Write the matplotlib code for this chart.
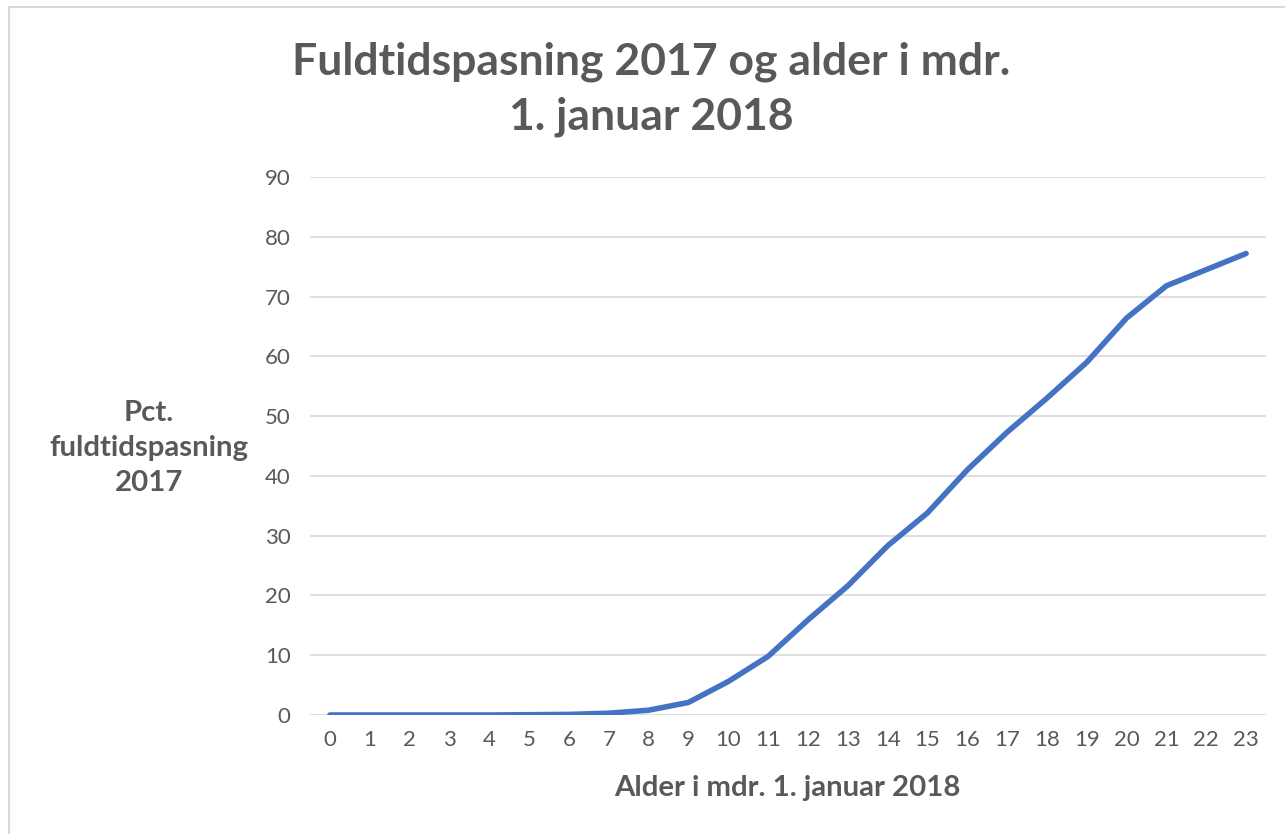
import matplotlib
matplotlib.use('Agg')
import matplotlib.pyplot as plt
from matplotlib.patches import Rectangle

plt.rcParams['font.family'] = ['Lato', 'DejaVu Sans']

alder = list(range(24))
pct = [0, 0, 0, 0, 0, 0.05, 0.1, 0.3, 0.8, 2.1, 5.6, 9.8, 15.9, 21.6, 28.3,
       33.8, 41.0, 47.3, 53.0, 59.0, 66.4, 71.8, 74.5, 77.2]
yticks = list(range(0, 100, 10))

grey = '#595959'

fig = plt.figure(figsize=(12.85, 8.34), dpi=100)
fig.patches.append(Rectangle((9 / 1285, -0.1), 1.2, 1.1 - 7 / 834,
                             transform=fig.transFigure, fill=False,
                             edgecolor='#D9D9D9', linewidth=1.5))
ax = fig.add_axes([310 / 1285, 1 - 715 / 834, 956 / 1285, 538 / 834])

ax.plot(alder, pct, color='#4472C4', linewidth=4, solid_capstyle='round',
        solid_joinstyle='round', zorder=3)

ax.set_xlim(-0.5, 23.5)
ax.set_ylim(0, 90)
ax.set_xticks(alder)
ax.set_yticks(yticks)
ax.grid(axis='y', color='#D9D9D9', linewidth=1.2)
ax.set_axisbelow(True)
for s in ax.spines.values():
    s.set_visible(False)
ax.tick_params(length=0, labelsize=16, labelcolor=grey)
ax.tick_params(axis='x', pad=11)
ax.tick_params(axis='y', pad=14)

fig.text(0.507, 1 - 89 / 834, 'Fuldtidspasning 2017 og alder i mdr.\n1. januar 2018',
         ha='center', va='center', fontsize=32, fontweight='bold', color=grey,
         linespacing=1.45)
fig.text(149 / 1285, 1 - 448 / 834, 'Pct.\nfuldtidspasning\n2017', ha='center',
         va='center', fontsize=21.2, fontweight='bold', color=grey, linespacing=1.42)
fig.text(787 / 1285, 1 - 788 / 834, 'Alder i mdr. 1. januar 2018', ha='center',
         va='center', fontsize=21.2, fontweight='bold', color=grey)

fig.savefig('out.png', dpi=100)
